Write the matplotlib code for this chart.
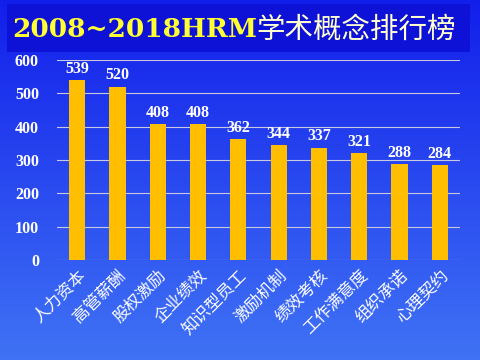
import numpy as np
import matplotlib.pyplot as plt
from matplotlib.patches import Rectangle

plt.rcParams['font.family'] = ['Liberation Serif', 'Noto Sans CJK SC', 'DejaVu Sans']

concepts = ['人力资本', '高管薪酬', '股权激励', '企业绩效', '知识型员工',
            '激励机制', '绩效考核', '工作满意度', '组织承诺', '心理契约']
counts = [539, 520, 408, 408, 362, 344, 337, 321, 288, 284]
y_ticks = [0, 100, 200, 300, 400, 500, 600]

fig = plt.figure(figsize=(4.8, 3.6), dpi=100)

# фон: синий градиент
bg = fig.add_axes([0, 0, 1, 1], zorder=-10)
grad = np.linspace(0, 1, 256).reshape(-1, 1)
top = np.array([0.07, 0.12, 0.92])
bot = np.array([0.25, 0.45, 0.96])
img = top + (bot - top) * grad[:, :, None] * np.ones((1, 1, 3))
bg.imshow(img, aspect='auto', extent=[0, 1, 0, 1], origin='upper')
bg.add_patch(Rectangle((0.015, 0.855), 0.965, 0.135, color=(0.05, 0.07, 0.84), lw=0))
bg.set_xlim(0, 1)
bg.set_ylim(0, 1)
bg.axis('off')

fig.text(0.025, 0.918, '2008~2018HRM', color='#ffff33', fontsize=19,
         fontweight='bold', family='DejaVu Serif', va='center')
fig.text(0.535, 0.918, '学术概念排行榜', color='#ffffd0', fontsize=20.5,
         family='Noto Sans CJK SC', fontweight='light', va='center')

ax = fig.add_axes([57/480, 1 - 260/360, 403/480, 200/360])
ax.patch.set_alpha(0)
x = np.arange(len(concepts))
ax.bar(x, counts, width=0.4, color='#ffbf00', zorder=3)
for xi, v in zip(x, counts):
    ax.text(xi, v + 10, str(v), ha='center', va='bottom', color='white',
            fontsize=11.5, fontweight='bold')

ax.set_xlim(-0.5, len(concepts) - 0.5)
ax.set_ylim(0, 600)
ax.set_yticks(y_ticks)
ax.set_yticklabels([str(t) for t in y_ticks], color='white', fontsize=11.5,
                   fontweight='bold')
ax.set_xticks(x)
ax.set_xticklabels(concepts, rotation=45, ha='right', rotation_mode='anchor',
                   color='white', fontsize=12, family='Noto Sans CJK SC',
                   fontweight='light')
ax.tick_params(axis='y', length=0, pad=13)
ax.tick_params(axis='x', length=0, pad=5)
ax.grid(axis='y', color='#c8c8e0', lw=0.8, zorder=0)
for s in ax.spines.values():
    s.set_visible(False)

fig.savefig('out.png', dpi=100)
